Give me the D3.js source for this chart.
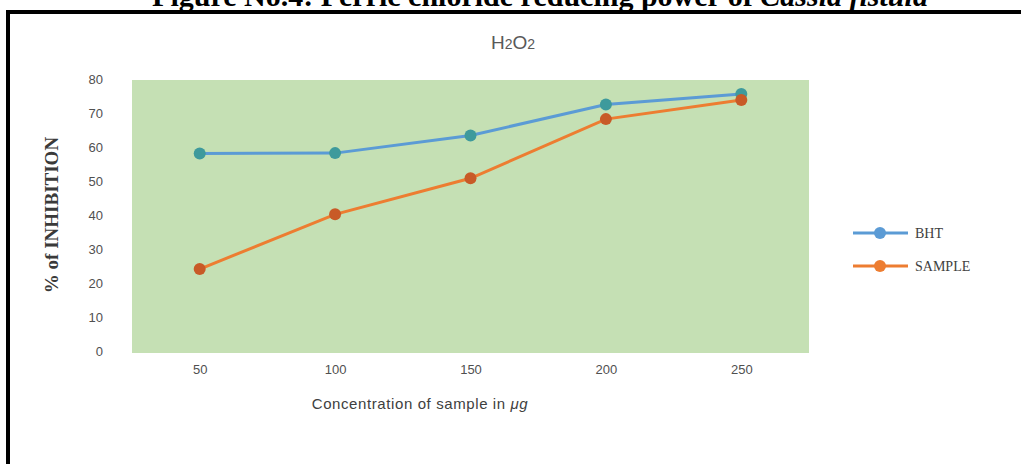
<!DOCTYPE html>
<html>
<head>
<meta charset="utf-8">
<script src="https://cdn.jsdelivr.net/npm/d3@7"></script>
<style>
  body { margin: 0; background: #fff; }
  svg { display: block; }
</style>
</head>
<body>
<svg id="chart"></svg>
<script>
const width = 1021;
const height = 464;

// data
const concentrations = ["50", "100", "150", "200", "250"];
const bhtValues = [58.1, 58.2, 63.4, 72.5, 75.6];
const sampleValues = [24.1, 40.2, 50.8, 68.2, 73.8];
const yTicks = [0, 10, 20, 30, 40, 50, 60, 70, 80];

const series = [
    {name: "BHT", values: bhtValues, line: "#5b9bd5", marker: "#3e9a9c"},
    {name: "SAMPLE", values: sampleValues, line: "#ed7d31", marker: "#c85a27"}
];

const svg = d3.select("#chart")
    .attr("width", width)
    .attr("height", height);

// figure caption, cut off at the top edge as in the source
const cap = svg.append("text")
    .attr("x", 540)
    .attr("y", 6)
    .attr("text-anchor", "middle")
    .attr("font-family", "Liberation Serif, Times New Roman, serif")
    .attr("font-weight", "bold")
    .attr("font-size", 30)
    .attr("fill", "#000");
cap.append("tspan").text("Figure No.4: Ferric chloride reducing power of ");
cap.append("tspan").attr("font-style", "italic").text("Cassia fistula");

// frame (only left and top are visible in the crop)
svg.append("rect")
    .attr("x", 8)
    .attr("y", 12)
    .attr("width", 1100)
    .attr("height", 600)
    .attr("fill", "none")
    .attr("stroke", "#000")
    .attr("stroke-width", 4);

const plot = {left: 132, right: 809, top: 80, bottom: 353};

const x = d3.scalePoint()
    .domain(concentrations)
    .range([plot.left, plot.right])
    .padding(0.5);

const y = d3.scaleLinear()
    .domain([0, 80])
    .range([351, 79]);

svg.append("rect")
    .attr("x", plot.left)
    .attr("y", plot.top)
    .attr("width", plot.right - plot.left)
    .attr("height", plot.bottom - plot.top)
    .attr("fill", "#c5e0b4");

// chart title
const title = svg.append("text")
    .attr("x", 513)
    .attr("y", 49)
    .attr("text-anchor", "middle")
    .attr("font-family", "Liberation Sans, Arial, sans-serif")
    .attr("font-size", 19)
    .attr("fill", "#595959");
title.append("tspan").text("H");
title.append("tspan").attr("font-size", 14).text("2");
title.append("tspan").text("O");
title.append("tspan").attr("font-size", 14).text("2");

// y axis labels
const yAxis = svg.append("g")
    .attr("transform", `translate(103,0)`)
    .call(d3.axisLeft(y).tickValues(yTicks).tickSize(0).tickPadding(0));
yAxis.select(".domain").remove();
yAxis.selectAll("text")
    .attr("font-family", "Liberation Sans, Arial, sans-serif")
    .attr("font-size", 13)
    .attr("fill", "#505050");

// x axis labels
const xAxis = svg.append("g")
    .attr("transform", `translate(0,365)`)
    .call(d3.axisBottom(x).tickSize(0).tickPadding(0));
xAxis.select(".domain").remove();
xAxis.selectAll("text")
    .attr("font-family", "Liberation Sans, Arial, sans-serif")
    .attr("font-size", 13)
    .attr("fill", "#505050");

// axis titles
const xt = svg.append("text")
    .attr("x", 420)
    .attr("y", 409)
    .attr("text-anchor", "middle")
    .attr("font-family", "Liberation Sans, Arial, sans-serif")
    .attr("font-size", 15)
    .attr("letter-spacing", 0.6)
    .attr("fill", "#404040");
xt.append("tspan").text("Concentration of sample in ");
xt.append("tspan").attr("font-style", "italic").text("μg");

svg.append("text")
    .attr("transform", "translate(58,215) rotate(-90)")
    .attr("text-anchor", "middle")
    .attr("font-family", "Liberation Serif, Times New Roman, serif")
    .attr("font-weight", "bold")
    .attr("font-size", 19)
    .attr("fill", "#3a3a3a")
    .text("% of INHIBITION");

// lines and markers
const line = d3.line()
    .x((d, i) => x(concentrations[i]))
    .y(d => y(d));

series.forEach(s => {
    svg.append("path")
        .datum(s.values)
        .attr("d", line)
        .attr("fill", "none")
        .attr("stroke", s.line)
        .attr("stroke-width", 3);

    svg.append("g").selectAll("circle")
        .data(s.values)
        .enter().append("circle")
        .attr("cx", (d, i) => x(concentrations[i]))
        .attr("cy", d => y(d))
        .attr("r", 6)
        .attr("fill", s.marker);
});

// legend
const legend = svg.append("g")
    .selectAll("g")
    .data(series)
    .enter().append("g")
    .attr("transform", (d, i) => `translate(853,${233 + i * 33})`);

legend.append("line")
    .attr("x1", 0)
    .attr("x2", 55)
    .attr("stroke", d => d.line)
    .attr("stroke-width", 3);

legend.append("circle")
    .attr("cx", 27)
    .attr("r", 6)
    .attr("fill", d => d.line);

legend.append("text")
    .attr("x", 62)
    .attr("dy", "0.35em")
    .attr("font-family", "Liberation Serif, Times New Roman, serif")
    .attr("font-size", 14)
    .attr("fill", "#404040")
    .text(d => d.name);
</script>
</body>
</html>
